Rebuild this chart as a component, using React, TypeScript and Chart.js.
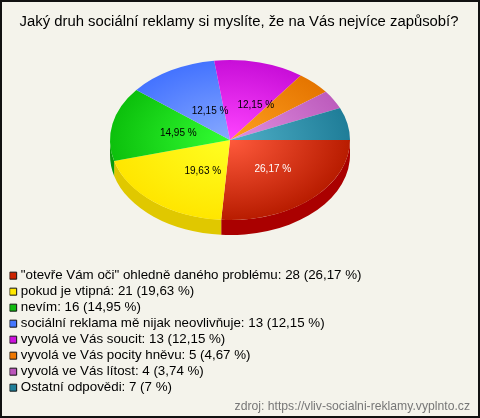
import React, { useEffect, useRef } from "react";
import { Chart, registerables } from "chart.js";

Chart.register(...registerables);

const titleText = "Jaký druh sociální reklamy si myslíte, že na Vás nejvíce zapůsobí?";
const sourceText = "zdroj: https://vliv-socialni-reklamy.vyplnto.cz";
const categories = [
  '"otevře Vám oči" ohledně daného problému',
  "pokud je vtipná",
  "nevím",
  "sociální reklama mě nijak neovlivňuje",
  "vyvolá ve Vás soucit",
  "vyvolá ve Vás pocity hněvu",
  "vyvolá ve Vás lítost",
  "Ostatní odpovědi",
];
const counts = [28, 21, 16, 13, 13, 5, 4, 7];
const percents = ["26,17", "19,63", "14,95", "12,15", "12,15", "4,67", "3,74", "7"];
const sliceLabels = ["26,17 %", "19,63 %", "14,95 %", "12,15 %", "12,15 %", "", "", ""];
const labelColors = ["#ffffff", "#000000", "#000000", "#000000", "#000000", "#000000", "#000000", "#000000"];
const centerColors = ["#ff5a3c", "#ffff22", "#33ff33", "#88aaff", "#ff44ff", "#ffa020", "#e090e0", "#50b0c8"];
const edgeColors = ["#b81c00", "#ffe600", "#0cc00c", "#4473ff", "#c80ed8", "#e57500", "#bd5cbd", "#1f7d98"];
const sideColors = ["#aa0000", "#e0c800", "#0a9a0a", "#2244bb", "#880088", "#aa5500", "#884488", "#115566"];
const legendColors = ["#cc2200", "#ffe800", "#11bb11", "#4477ff", "#cc11dd", "#ee7700", "#bb55bb", "#1f7f99"];

const BG = "#f4f3eb";
const CX = 230;
const CY = 140;
const SQUASH = 0.667;
const DEPTH = 15 / SQUASH;
// label placement tweak relative to the slice's centre point
const labelNudgeX = [2, 11, 7, 9.5, 11, 0, 0, 0];
const labelNudgeY = [0, 0, 1, 6, 4, 0, 0, 0];

const scenePlugin = {
  id: "scene",
  beforeDraw(chart: any) {
    const { ctx, width, height } = chart;
    ctx.save();
    ctx.fillStyle = BG;
    ctx.fillRect(0, 0, width, height);
    ctx.strokeStyle = "#111111";
    ctx.lineWidth = 2;
    ctx.strokeRect(1, 1, width - 2, height - 2);
    ctx.restore();
  },
  afterLayout(chart: any) {
    const legend = chart.legend;
    const h = legend.height;
    const w = legend.width;
    legend.left = 9.5;
    legend.top = 266.33;
    legend.right = 9.5 + Math.max(w, 450);
    legend.bottom = 266.33 + Math.max(h, 140);
  },
  beforeDatasetsDraw(chart: any) {
    const { ctx } = chart;
    const arcs = chart.getDatasetMeta(0).data;
    const first = arcs[0];
    ctx.save();
    ctx.translate(CX - first.x, CY);
    ctx.scale(1, SQUASH);
    ctx.translate(0, -first.y);
    arcs.forEach((arc: any, i: number) => {
      const a0 = Math.max(arc.startAngle, 0);
      const a1 = Math.min(arc.endAngle, Math.PI);
      if (a1 <= a0) return;
      ctx.beginPath();
      ctx.arc(arc.x, arc.y, arc.outerRadius, a0, a1);
      ctx.arc(arc.x, arc.y + DEPTH, arc.outerRadius, a1, a0, true);
      ctx.closePath();
      ctx.fillStyle = sideColors[i];
      ctx.fill();
    });
  },
  afterDatasetsDraw(chart: any) {
    const { ctx } = chart;
    ctx.restore();
    const arcs = chart.getDatasetMeta(0).data;
    ctx.save();
    ctx.font = '10px "Liberation Sans"';
    ctx.textAlign = "center";
    ctx.textBaseline = "middle";
    arcs.forEach((arc: any, i: number) => {
      if (!sliceLabels[i]) return;
      const p = arc.getCenterPoint();
      ctx.fillStyle = labelColors[i];
      ctx.fillText(
        sliceLabels[i],
        CX + (p.x - arc.x) + labelNudgeX[i],
        CY + (p.y - arc.y) * SQUASH + labelNudgeY[i]
      );
    });
    ctx.restore();
  },
};

export default function App() {
  const ref = useRef<HTMLCanvasElement>(null);
  useEffect(() => {
    document.body.style.margin = "0";
    const chart = new Chart(ref.current!, {
      type: "pie",
      data: {
        labels: categories,
        datasets: [
          {
            data: counts,
            borderWidth: 0,
            backgroundColor: (c: any) => {
              const area = c.chart.chartArea;
              if (!area || c.dataIndex === undefined) return centerColors[c.dataIndex ?? 0];
              const x = (area.left + area.right) / 2;
              const y = (area.top + area.bottom) / 2;
              const r = Math.min(area.right - area.left, area.bottom - area.top) / 2;
              const g = c.chart.ctx.createRadialGradient(x, y, 0, x, y, r);
              g.addColorStop(0, centerColors[c.dataIndex]);
              g.addColorStop(1, edgeColors[c.dataIndex]);
              return g;
            },
          },
        ],
      },
      options: {
        responsive: false,
        animation: false,
        rotation: 90,
        layout: { padding: { left: 8, right: 10, top: 0, bottom: 0 } },
        plugins: {
          tooltip: { enabled: false },
          title: {
            display: true,
            text: titleText,
            color: "#000000",
            font: { family: '"Liberation Sans"', size: 14.85, weight: "normal", lineHeight: "18px" },
            padding: { top: 13, bottom: 94 },
          },
          subtitle: {
            display: true,
            position: "bottom",
            align: "end",
            text: sourceText,
            color: "#777777",
            font: { family: '"Liberation Sans"', size: 12.2, weight: "normal", lineHeight: "14px" },
            padding: { top: 35, bottom: 4 },
          },
          legend: {
            position: "chartArea",
            align: "start",
            labels: {
              usePointStyle: true,
              pointStyle: "rect",
              boxWidth: 2,
              boxHeight: 7,
              padding: 2.67,
              color: "#000000",
              font: { family: '"Liberation Sans"', size: 13.33, lineHeight: "14px" },
              generateLabels: () =>
                categories.map((name, i) => ({
                  text: `${name}: ${counts[i]} (${percents[i]} %)`,
                  fillStyle: legendColors[i],
                  strokeStyle: "#111111",
                  lineWidth: 1,
                  pointStyle: "rect",
                  hidden: false,
                  index: i,
                })),
            },
          },
        },
      } as any,
      plugins: [scenePlugin],
    });
    return () => chart.destroy();
  }, []);
  return <canvas ref={ref} width={480} height={418} style={{ display: "block" }} />;
}
